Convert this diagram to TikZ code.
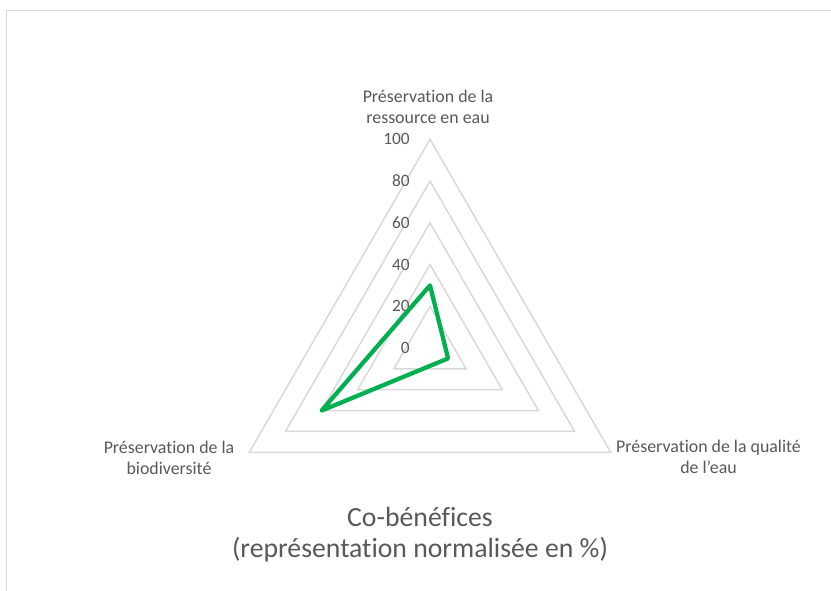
\documentclass[tikz,border=0pt]{standalone}
\usepackage{fontspec}
\setmainfont{Carlito}[Ligatures={NoCommon}]
\definecolor{gridgray}{HTML}{D9D9D9}
\definecolor{txtgray}{HTML}{595959}
\definecolor{datagreen}{HTML}{00B050}
\begin{document}
\begin{tikzpicture}[x=0.75pt,y=-0.75pt,
  grid/.style={draw=gridgray,line width=1.1pt,line join=miter},
  frame/.style={draw=gridgray,line width=0.9pt},
  series/.style={draw=datagreen,line width=3.2pt,line join=round},
  ticklbl/.style={text=txtgray,font=\fontsize{13}{15.6}\selectfont,anchor=east,inner sep=0pt},
  axlbl/.style={text=txtgray,font=\fontsize{13.4}{15.75}\selectfont,align=center,inner sep=0pt},
  ttl/.style={text=txtgray,font=\fontsize{20.8}{23.25}\selectfont,align=center,inner sep=0pt}]
\useasboundingbox (0,0) rectangle (831,591);
\fill[white] (0,0) rectangle (831,591);
\draw[frame] (6.5,591) -- (6.5,10.5) -- (831,10.5);
\coordinate (c) at (430,348);
\def\R{208.7}
\foreach \k in {1,...,5}{
  \pgfmathsetmacro{\r}{\R/5*\k}
  \draw[grid] (430,348-\r) -- (430+0.8660254*\r,348+0.5*\r) -- (430-0.8660254*\r,348+0.5*\r) -- cycle;
}
\foreach \v in {0,20,40,60,80,100}{
  \pgfmathsetmacro{\yy}{348-\R/100*\v}
  \node[ticklbl] (t\v) at (410,\yy) {\v};
}
\pgfmathsetmacro{\a}{\R*0.30}
\pgfmathsetmacro{\b}{\R*0.10}
\pgfmathsetmacro{\cc}{\R*0.60}
\coordinate (p1) at (430,348-\a);
\coordinate (p2) at (430+0.8660254*\b,348+0.5*\b);
\coordinate (p3) at (430-0.8660254*\cc,348+0.5*\cc);
\draw[series] (p1) -- (p2) -- (p3) -- cycle;
\node[axlbl] (top) at (428,106.5) {Préservation de la\\ressource en eau};
\node[axlbl] (left) at (169,457.5) {Préservation de la\\biodiversité};
\node[axlbl] (right) at (708.5,456.5) {Préservation de la qualité\\de l’eau};
\node[ttl] (title) at (420,534.5) {Co-bénéfices\\(représentation normalisée en \%)};
\end{tikzpicture}
\end{document}
